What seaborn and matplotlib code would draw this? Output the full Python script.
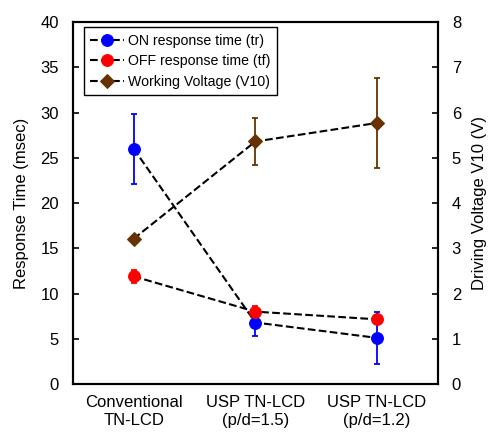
import matplotlib
matplotlib.use("Agg")
import matplotlib.pyplot as plt
import numpy as np
import pandas as pd
import seaborn as sns

# Data
categories = ["Conventional\nTN-LCD", "USP TN-LCD\n(p/d=1.5)", "USP TN-LCD\n(p/d=1.2)"]
on_time = [26.0, 6.8, 5.1]
on_err = [3.85, 1.5, 2.9]
off_time = [11.9, 8.0, 7.15]
off_err = [0.75, 0.6, 0.5]
voltage = [3.21, 5.36, 5.77]
volt_err = [0.0, 0.52, 1.0]

sns.set_style("ticks")
plt.rcParams["font.family"] = ["Liberation Sans", "DejaVu Sans"]
plt.rcParams["font.size"] = 12
plt.rcParams["text.color"] = "black"
plt.rcParams["axes.labelcolor"] = "black"

x = np.arange(len(categories))
df = pd.DataFrame({"x": x, "on": on_time, "off": off_time, "volt": voltage})

fig = plt.figure(figsize=(4.92, 4.32), dpi=100)
ax = fig.add_axes([0.148, 0.111, 0.742, 0.838])
ax2 = ax.twinx()

# error bars first so markers sit on top
ax.errorbar(x, on_time, yerr=on_err, fmt="none", ecolor="blue", elinewidth=1.3,
            capsize=2.5, capthick=1.3, zorder=2)
ax.errorbar(x, off_time, yerr=off_err, fmt="none", ecolor="red", elinewidth=1.3,
            capsize=2.5, capthick=1.3, zorder=2)
ax2.errorbar(x, voltage, yerr=volt_err, fmt="none", ecolor="#663300", elinewidth=1.3,
             capsize=2.5, capthick=1.3, zorder=2)

sns.lineplot(data=df, x="x", y="on", ax=ax, color="black", linestyle="--", lw=1.5,
             marker="o", markersize=8.5, markerfacecolor="blue", markeredgecolor="blue",
             label="ON response time (tr)", legend=False, zorder=3)
sns.lineplot(data=df, x="x", y="off", ax=ax, color="black", linestyle="--", lw=1.5,
             marker="o", markersize=8.5, markerfacecolor="red", markeredgecolor="red",
             label="OFF response time (tf)", legend=False, zorder=3)
sns.lineplot(data=df, x="x", y="volt", ax=ax2, color="black", linestyle="--", lw=1.5,
             marker="D", markersize=7, markerfacecolor="#663300", markeredgecolor="#663300",
             label="Working Voltage (V10)", legend=False, zorder=3)

ax.set_xlim(-0.5, 2.5)
ax.set_ylim(0, 40)
ax2.set_ylim(0, 8)
ax.set_yticks(np.arange(0, 41, 5))
ax2.set_yticks(np.arange(0, 9, 1))
ax.set_xticks(x)
ax.set_xticklabels(categories)
ax.set_xlabel("")
ax.set_ylabel("Response Time (msec)", fontsize=12, labelpad=8)
ax2.set_ylabel("Driving Voltage V10 (V)", fontsize=12, labelpad=8)

ax.tick_params(axis="y", direction="in", length=4, width=1.2, colors="black",
               labelsize=12, pad=10)
ax2.tick_params(axis="y", direction="in", length=4, width=1.2, colors="black",
                labelsize=12, pad=10)
ax.tick_params(axis="x", length=0, pad=8, labelsize=12, colors="black")
for a in (ax, ax2):
    for s in a.spines.values():
        s.set_linewidth(1.5)
        s.set_color("black")
        s.set_visible(True)

h1, l1 = ax.get_legend_handles_labels()
h2, l2 = ax2.get_legend_handles_labels()
leg = ax2.legend(h1 + h2, l1 + l2, loc="upper left", bbox_to_anchor=(0.03, 0.985),
                 frameon=True, fancybox=False, edgecolor="black", framealpha=1,
                 fontsize=10.2, handlelength=2.4, borderpad=0.45, labelspacing=0.45,
                 handletextpad=0.3, borderaxespad=0)
leg.get_frame().set_linewidth(1.0)

fig.savefig("out.png", dpi=100)
